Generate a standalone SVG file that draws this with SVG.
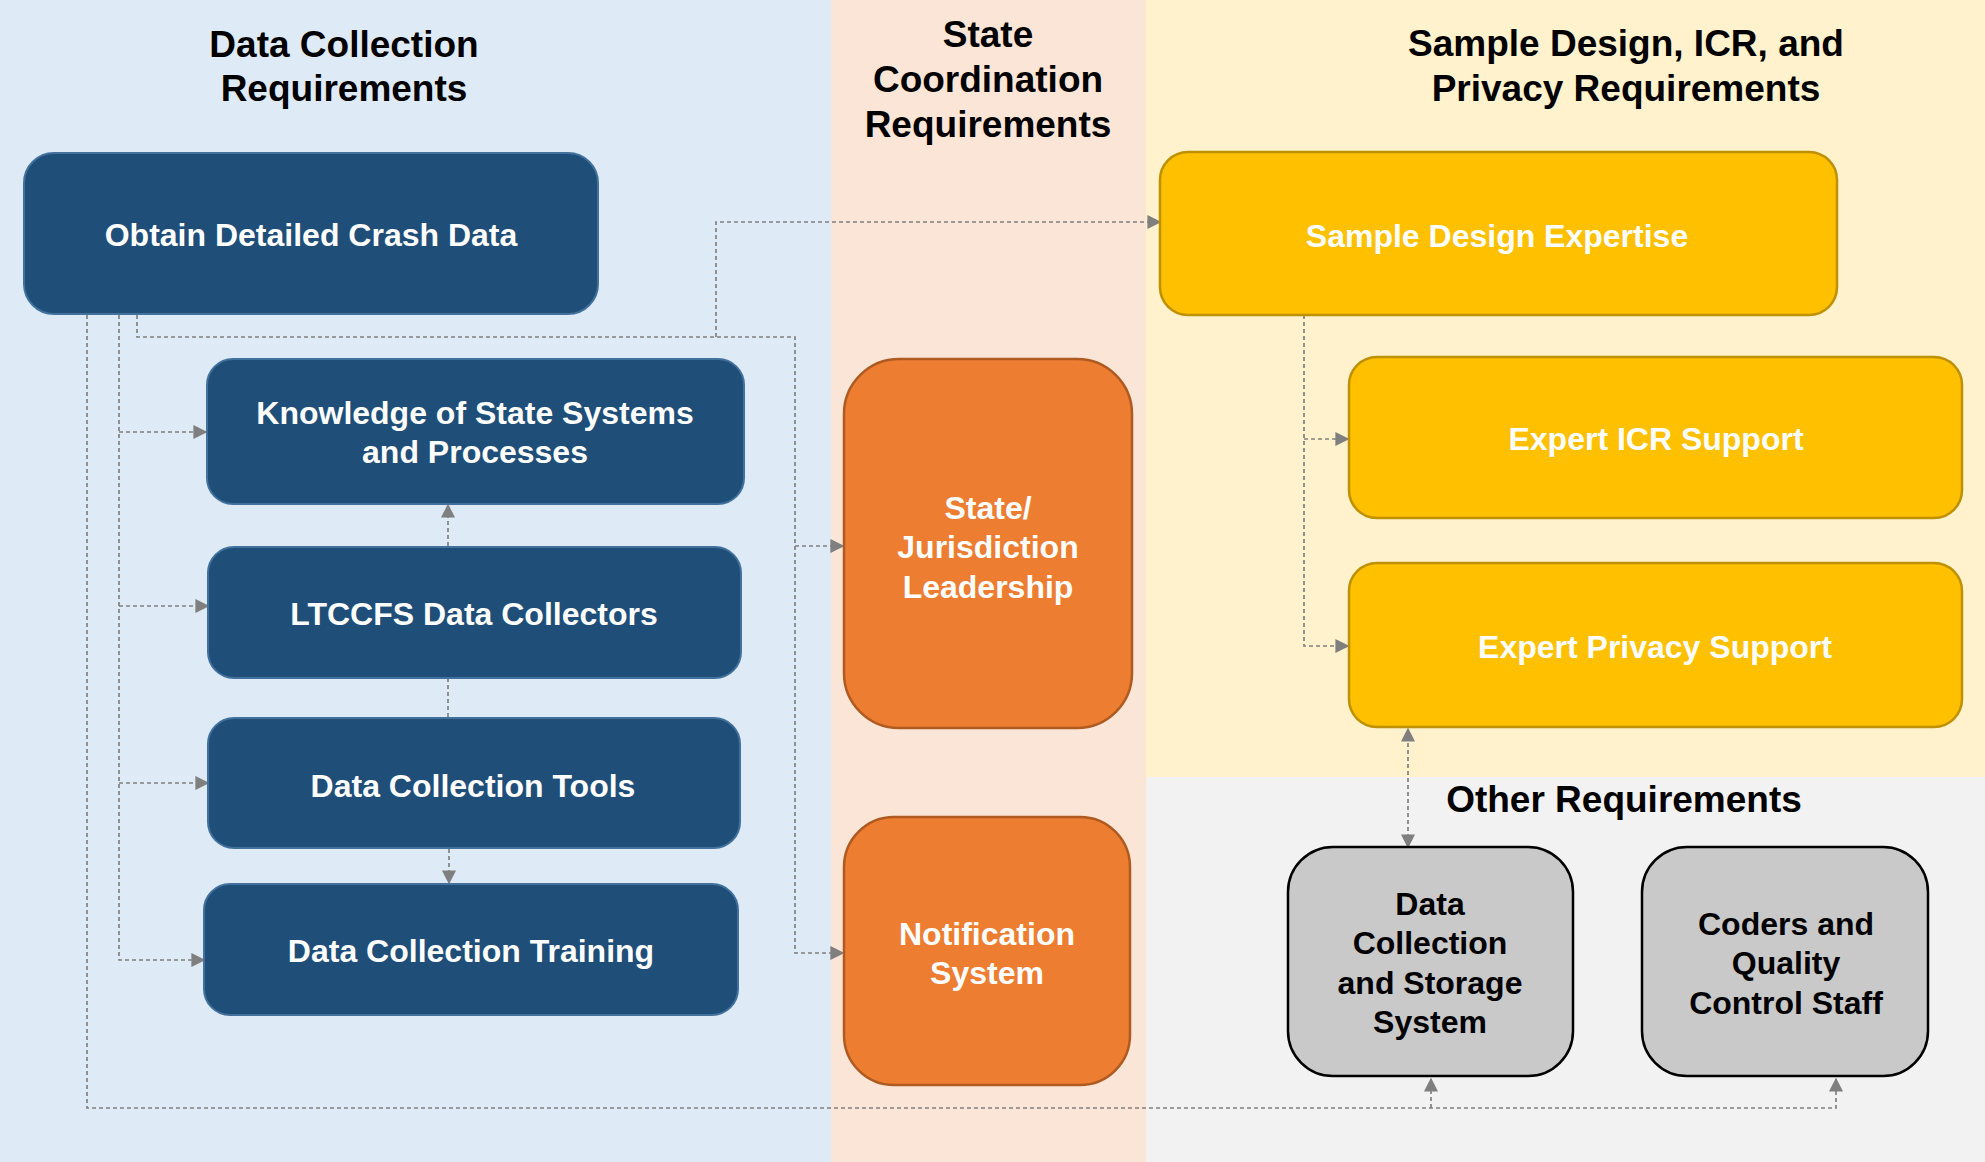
<svg xmlns="http://www.w3.org/2000/svg" width="1985" height="1162" viewBox="0 0 1985 1162">
<defs>
<marker id="ah" viewBox="0 0 10 10" refX="9" refY="5" markerWidth="14" markerHeight="14" markerUnits="userSpaceOnUse" orient="auto-start-reverse">
<path d="M0,0 L10,5 L0,10 z" fill="#7f7f7f"/>
</marker>
<style>
.title{font-family:"Liberation Sans",Arial,sans-serif;font-weight:bold;font-size:37px;fill:#000;text-anchor:middle}
.lbl{font-family:"Liberation Sans",Arial,sans-serif;font-weight:bold;font-size:32px;fill:#fff;text-anchor:middle}
.lbk{font-family:"Liberation Sans",Arial,sans-serif;font-weight:bold;font-size:32px;fill:#000;text-anchor:middle}
.blue{fill:#1f4e79;stroke:#41719c;stroke-width:2}
.orange{fill:#ed7d31;stroke:#ae5a21;stroke-width:2.5}
.yellow{fill:#ffc000;stroke:#bf9000;stroke-width:2.5}
.gray{fill:#c9c9c9;stroke:#000;stroke-width:2.5}
.conn{fill:none;stroke:#808080;stroke-width:1.7;stroke-dasharray:4 3}
</style>
</defs>
<g id="background">
<rect x="0" y="0" width="831" height="1162" fill="#deeaf6"/>
<rect x="831" y="0" width="315" height="1162" fill="#fbe5d6"/>
<rect x="1146" y="0" width="839" height="777" fill="#fff2cc"/>
<rect x="1146" y="777" width="839" height="385" fill="#f2f2f2"/>
</g>
<g id="titles">
<text class="title" x="344" y="57">Data Collection</text>
<text class="title" x="344" y="101">Requirements</text>
<text class="title" x="988" y="47">State</text>
<text class="title" x="988" y="92">Coordination</text>
<text class="title" x="988" y="137">Requirements</text>
<text class="title" x="1626" y="56">Sample Design, ICR, and</text>
<text class="title" x="1626" y="101">Privacy Requirements</text>
<text class="title" x="1624" y="812">Other Requirements</text>
</g>
<g id="connectors">
<path class="conn" d="M87,315 V1108 H1836 V1079" marker-end="url(#ah)"/>
<path class="conn" d="M1431,1108 V1079" marker-end="url(#ah)"/>
<path class="conn" d="M119,315 V960 H204" marker-end="url(#ah)"/>
<path class="conn" d="M119,432 H206" marker-end="url(#ah)"/>
<path class="conn" d="M119,606 H208" marker-end="url(#ah)"/>
<path class="conn" d="M119,783 H208" marker-end="url(#ah)"/>
<path class="conn" d="M137,315 V337 H795 V953 H843" marker-end="url(#ah)"/>
<path class="conn" d="M795,546 H843" marker-end="url(#ah)"/>
<path class="conn" d="M716,337 V222 H1160" marker-end="url(#ah)"/>
<path class="conn" d="M448,546 V505" marker-end="url(#ah)"/>
<path class="conn" d="M448,678 V718"/>
<path class="conn" d="M449,849 V883" marker-end="url(#ah)"/>
<path class="conn" d="M1304,315 V646 H1348" marker-end="url(#ah)"/>
<path class="conn" d="M1304,439 H1348" marker-end="url(#ah)"/>
<path class="conn" d="M1408,729 V847" marker-start="url(#ah)" marker-end="url(#ah)"/>
</g>
<g id="n-obtain">
<rect class="blue" x="24" y="153" width="574" height="161" rx="30"/>
<text class="lbl" x="311" y="246">Obtain Detailed Crash Data</text>
</g>
<g id="n-knowledge">
<rect class="blue" x="207" y="359" width="537" height="145" rx="26"/>
<text class="lbl" x="475" y="424">Knowledge of State Systems</text>
<text class="lbl" x="475" y="463">and Processes</text>
</g>
<g id="n-ltccfs">
<rect class="blue" x="208" y="547" width="533" height="131" rx="26"/>
<text class="lbl" x="474" y="625">LTCCFS Data Collectors</text>
</g>
<g id="n-tools">
<rect class="blue" x="208" y="718" width="532" height="130" rx="26"/>
<text class="lbl" x="473" y="797">Data Collection Tools</text>
</g>
<g id="n-training">
<rect class="blue" x="204" y="884" width="534" height="131" rx="26"/>
<text class="lbl" x="471" y="962">Data Collection Training</text>
</g>
<g id="n-state">
<rect class="orange" x="844" y="359" width="288" height="369" rx="55"/>
<text class="lbl" x="988" y="519">State/</text>
<text class="lbl" x="988" y="558">Jurisdiction</text>
<text class="lbl" x="988" y="598">Leadership</text>
</g>
<g id="n-notification">
<rect class="orange" x="844" y="817" width="286" height="268" rx="50"/>
<text class="lbl" x="987" y="945">Notification</text>
<text class="lbl" x="987" y="984">System</text>
</g>
<g id="n-sample">
<rect class="yellow" x="1160" y="152" width="677" height="163" rx="28"/>
<text class="lbl" x="1497" y="247">Sample Design Expertise</text>
</g>
<g id="n-icr">
<rect class="yellow" x="1349" y="357" width="613" height="161" rx="28"/>
<text class="lbl" x="1656" y="450">Expert ICR Support</text>
</g>
<g id="n-privacy">
<rect class="yellow" x="1349" y="563" width="613" height="164" rx="28"/>
<text class="lbl" x="1655" y="658">Expert Privacy Support</text>
</g>
<g id="n-storage">
<rect class="gray" x="1288" y="847" width="285" height="229" rx="45"/>
<text class="lbk" x="1430" y="915">Data</text>
<text class="lbk" x="1430" y="954">Collection</text>
<text class="lbk" x="1430" y="994">and Storage</text>
<text class="lbk" x="1430" y="1033">System</text>
</g>
<g id="n-coders">
<rect class="gray" x="1642" y="847" width="286" height="229" rx="45"/>
<text class="lbk" x="1786" y="935">Coders and</text>
<text class="lbk" x="1786" y="974">Quality</text>
<text class="lbk" x="1786" y="1014">Control Staff</text>
</g>
</svg>
